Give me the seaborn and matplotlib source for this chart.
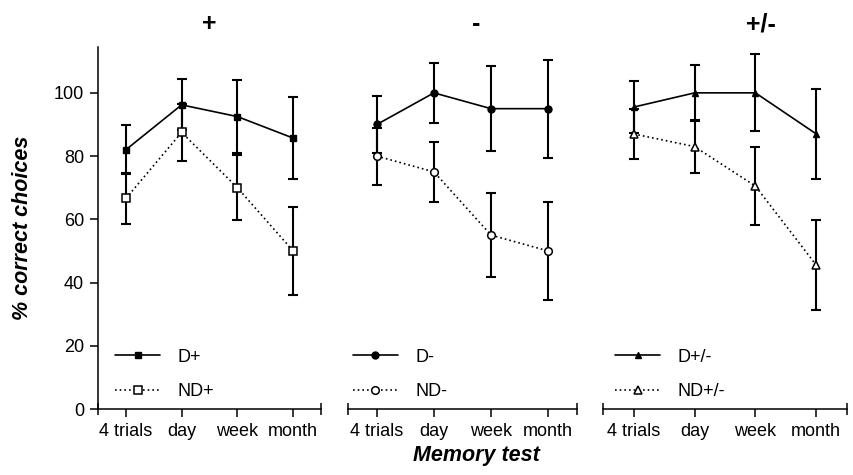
import matplotlib
matplotlib.use("Agg")
import matplotlib.pyplot as plt
import seaborn as sns
import pandas as pd

# ---- data ----
categories = ["4 trials", "day", "week", "month"]

plus_D = [82.0, 96.2, 92.5, 85.7]
plus_D_err = [7.7, 8.1, 11.5, 13.0]
plus_ND = [66.6, 87.5, 70.0, 50.0]
plus_ND_err = [8.2, 8.9, 10.2, 14.0]

minus_D = [90.0, 100.0, 95.0, 95.0]
minus_D_err = [9.0, 9.6, 13.4, 15.5]
minus_ND = [80.0, 75.0, 55.0, 50.0]
minus_ND_err = [9.0, 9.6, 13.4, 15.5]

pm_D = [95.5, 100.0, 100.0, 87.0]
pm_D_err = [8.3, 8.9, 12.2, 14.3]
pm_ND = [87.0, 83.0, 70.5, 45.5]
pm_ND_err = [8.0, 8.4, 12.3, 14.2]

panel_titles = ["+", "-", "+/-"]
d_labels = ["D+", "D-", "D+/-"]
nd_labels = ["ND+", "ND-", "ND+/-"]
y_ticks = [0, 20, 40, 60, 80, 100]

panels = [
    (plus_D, plus_D_err, plus_ND, plus_ND_err),
    (minus_D, minus_D_err, minus_ND, minus_ND_err),
    (pm_D, pm_D_err, pm_ND, pm_ND_err),
]

# ---- style ----
sns.set_theme(style="ticks")
plt.rcParams['font.family'] = ['Liberation Sans', 'DejaVu Sans']
plt.rcParams['axes.linewidth'] = 1.1
plt.rcParams['text.color'] = 'black'
plt.rcParams['axes.labelcolor'] = 'black'
plt.rcParams['xtick.color'] = 'black'
plt.rcParams['ytick.color'] = 'black'
plt.rcParams['axes.edgecolor'] = 'black'

W, H = 854, 475
fig = plt.figure(figsize=(W / 100, H / 100), dpi=100)

ax_px = [(98, 223), (348.3, 228.4), (603.3, 243.4)]
bottom = (H - 409) / H
height = 362.3 / H
markers = ["s", "o", "^"]
d_msize = [5.0, 5.0, 5.0]
nd_msize = [5.5, 5.5, 6.0]
title_x = [0.5, 0.562, 0.648]
legend_x = [0.076, 0.02, 0.048]

for i, (dv, de, nv, ne) in enumerate(panels):
    left, width = ax_px[i]
    ax = fig.add_axes([left / W, bottom, width / W, height])
    df_d = pd.DataFrame({"test": categories, "pct": dv})
    df_n = pd.DataFrame({"test": categories, "pct": nv})

    ax.errorbar(df_d["test"], df_d["pct"], yerr=de, fmt="none", ecolor="black",
                elinewidth=1.5, capsize=3.8, capthick=1.5, zorder=2)
    ax.errorbar(df_n["test"], df_n["pct"], yerr=ne, fmt="none", ecolor="black",
                elinewidth=1.5, capsize=3.8, capthick=1.5, zorder=2)

    sns.lineplot(data=df_d, x="test", y="pct", ax=ax, sort=False, color="black",
                 marker=markers[i], markersize=d_msize[i],
                 markerfacecolor="black", markeredgecolor="black", markeredgewidth=1.0,
                 linewidth=1.2, linestyle="-", label=d_labels[i], zorder=3)
    sns.lineplot(data=df_n, x="test", y="pct", ax=ax, sort=False, color="black",
                 marker=markers[i], markersize=nd_msize[i],
                 markerfacecolor="white", markeredgecolor="black", markeredgewidth=1.1,
                 linewidth=1.2, linestyle=(0, (1.0, 1.8)), label=nd_labels[i], zorder=3)

    ax.set_xlim(-0.5, 3.5)
    ax.set_ylim(0, 114.6)
    ax.set_xlabel("")
    ax.set_ylabel("")
    ax.set_xticks(range(len(categories)))
    ax.set_xticklabels(categories)
    ax.set_xticks([-0.5, 3.5], minor=True)
    ax.tick_params(axis="x", which="major", direction="out", length=6, width=1.1,
                   labelsize=13, pad=4, color="black", labelcolor="black")
    ax.tick_params(axis="x", which="minor", direction="inout", length=8.5, width=1.1,
                   color="black")
    for s in ["top", "right"]:
        ax.spines[s].set_visible(False)
    if i == 0:
        ax.set_yticks(y_ticks)
        ax.tick_params(axis="y", direction="out", length=6, width=1.1, labelsize=13,
                       pad=4, color="black", labelcolor="black")
    else:
        ax.spines["left"].set_visible(False)
        ax.set_yticks([])
    ax.grid(False)
    ax.set_facecolor("white")

    handles, labels = ax.get_legend_handles_labels()
    keep = [(h, l) for h, l in zip(handles, labels) if l in (d_labels[i], nd_labels[i])]
    leg = ax.legend([k[0] for k in keep], [k[1] for k in keep], loc="lower left",
                    bbox_to_anchor=(legend_x[i], 0.025), frameon=False, fontsize=13,
                    handlelength=2.5, handletextpad=0.95, labelspacing=0.95,
                    borderpad=0, borderaxespad=0)
    for t in leg.get_texts():
        t.set_color("black")

    fig.text((left + title_x[i] * width) / W, 1 - 24 / H, panel_titles[i],
             fontsize=18, fontweight="bold", ha="center", va="center")

fig.text(23 / W, 1 - 228 / H, "% correct choices", rotation=90, fontsize=15.5,
         fontweight="bold", fontstyle="italic", ha="center", va="center")
fig.text(476 / W, 1 - 456 / H, "Memory test", fontsize=15.5,
         fontweight="bold", fontstyle="italic", ha="center", va="center")

fig.savefig("out.png", dpi=100, facecolor="white")
